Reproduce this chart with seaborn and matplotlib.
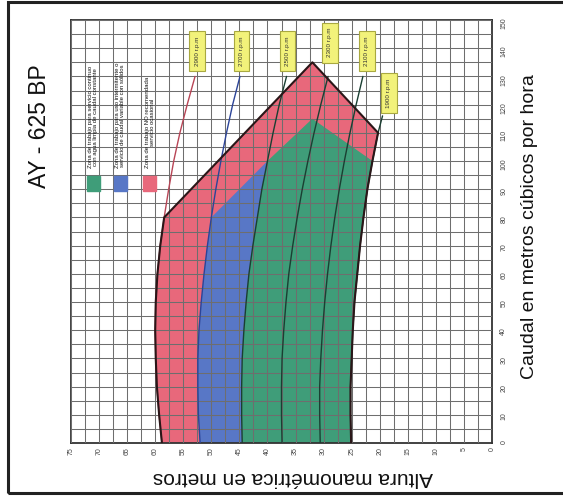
import matplotlib

matplotlib.use("Agg")
import matplotlib.pyplot as plt
import seaborn as sns
from matplotlib.patches import Rectangle

# caudal (m3/h) and altura (m)
caudal = [0, 10, 20, 30, 40, 50, 60, 70, 80, 90, 100, 110, 120, 130]
h_2900 = [58.8, 59.3, 59.7, 59.9, 60.0, 59.9, 59.6, 59.1, 58.4, 57.6, 56.7, 55.6, 54.3, 52.9]
h_2700 = [52.0, 52.3, 52.4, 52.4, 52.2, 51.8, 51.3, 50.7, 50.0, 49.2, 48.3, 47.3, 46.2, 44.9]
h_2500 = [44.5, 44.6, 44.6, 44.5, 44.2, 43.8, 43.3, 42.6, 41.8, 41.0, 40.0, 39.0, 37.9, 36.6]
h_2300 = [37.4, 37.5, 37.5, 37.4, 37.1, 36.7, 36.2, 35.5, 34.7, 33.8, 32.8, 31.7, 30.5, 29.2]
h_2100 = [30.6, 30.7, 30.7, 30.5, 30.2, 29.8, 29.3, 28.7, 28.0, 27.2, 26.3, 25.3, 24.2, 23.0]
caudal_1900 = [0, 10, 20, 30, 40, 50, 60, 70, 80, 90, 100, 110, 116]
h_1900 = [25.1, 25.2, 25.2, 25.0, 24.8, 24.5, 24.0, 23.5, 22.9, 22.2, 21.3, 20.3, 19.5]

# zone corners
peak_red = (135, 32.0)
peak_green = (115, 32.0)

speed_labels = ["2900 r.p.m", "2700 r.p.m", "2500 r.p.m", "2300 r.p.m", "2100 r.p.m", "1900 r.p.m"]
label_pos = [(52.5, 139), (44.6, 139), (36.4, 139), (28.9, 142), (22.3, 139), (18.4, 124)]

legend_texts = [
    "Zona de trabajo para servicio continuo\ncon agua limpia de caudal constante",
    "Zona de trabajo para uso intermitente o\nservicio de caudal variable con sólidos",
    "Zona de trabajo NO recomendada\nservicio ocasional",
]
zone_colors = ["#3f9d79", "#5877c6", "#e8687b"]

sns.set_theme(style="white")
plt.rcParams["font.family"] = ["Liberation Sans", "DejaVu Sans"]

fig = plt.figure(figsize=(5.63, 5.04), dpi=100)
ax = fig.add_axes([0.1261, 0.121, 0.7478, 0.8393])

# zones
red_h = h_2900[:9] + [peak_red[1]] + h_1900[:12][::-1]
red_q = caudal[:9] + [peak_red[0]] + caudal_1900[:12][::-1]
ax.fill(red_h, red_q, color=zone_colors[2], lw=0, zorder=1)

blue_h = h_2700[:9] + h_2500[:11][::-1]
blue_q = caudal[:9] + caudal[:11][::-1]
ax.fill(blue_h, blue_q, color=zone_colors[1], lw=0, zorder=1)

green_h = h_2500[:11] + [peak_green[1]] + h_1900[:11][::-1]
green_q = caudal[:11] + [peak_green[0]] + caudal_1900[:11][::-1]
ax.fill(green_h, green_q, color=zone_colors[0], lw=0, zorder=1)

# speed curves
curves = [
    (h_2900, caudal, "#b84556"),
    (h_2700, caudal, "#2c4498"),
    (h_2500, caudal, "#1a3f32"),
    (h_2300, caudal, "#1a3f32"),
    (h_2100, caudal, "#1a3f32"),
    (h_1900, caudal_1900, "#1a3f32"),
]
for hh, qq, col in curves:
    sns.lineplot(x=hh, y=qq, sort=False, estimator=None, color=col, lw=1.0, ax=ax, zorder=3)

# envelope outline
ax.plot(red_h, red_q, color="#2a1618", lw=1.5, zorder=4)

for txt, (hx, qy) in zip(speed_labels, label_pos):
    ax.text(hx, qy, txt, rotation=90, ha="center", va="center", fontsize=4.5, color="#333",
            zorder=6, bbox=dict(boxstyle="square,pad=0.85", fc="#f2f27a", ec="#a9a940", lw=0.8))

# legend squares + text
leg_h = [71.0, 66.2, 61.0]
for hx, col, txt in zip(leg_h, zone_colors, legend_texts):
    ax.add_patch(Rectangle((hx + 1.15, 89.5), -2.3, 5.3, color=col, zorder=5))
    ax.text(hx, 97.5, txt, rotation=90, ha="center", va="bottom", fontsize=4.3,
            linespacing=1.0, color="#111", zorder=5)

ax.set_xlim(75, 0)
ax.set_ylim(0, 150)
ax.set_xticks(range(0, 76, 5))
ax.set_xticks([v / 2 for v in range(0, 151, 5)], minor=True)
ax.set_yticks(range(0, 151, 10))
ax.set_yticks(range(0, 151, 5), minor=True)
ax.yaxis.tick_right()
ax.tick_params(which="both", length=0, labelsize=5, labelcolor="#444")
ax.tick_params(axis="x", pad=3, labelrotation=90)
ax.tick_params(axis="y", pad=6, labelrotation=90)
ax.set_axisbelow(False)
ax.grid(which="both", color="#6e6e6e", lw=0.75)
for s in ax.spines.values():
    s.set_color("#333")
    s.set_linewidth(1.3)
ax.set_xlabel("")
ax.set_ylabel("")

fig.text(39.5 / 563, 1 - 126 / 504, "AY - 625 BP", rotation=90, ha="center", va="center",
         fontsize=16.5, color="#111")
fig.text(530 / 563, 1 - 227 / 504, "Caudal en metros cúbicos por hora", rotation=90,
         ha="center", va="center", fontsize=14, color="#111")
fig.text(293 / 563, 1 - 477 / 504, "Altura manométrica en metros", rotation=180,
         ha="center", va="center", fontsize=15, color="#111")

fig.patches.append(Rectangle((8 / 563, 1 - 493 / 504), 1.1, 491 / 504, fill=False,
                             ec="#222", lw=2.2, transform=fig.transFigure, figure=fig))

fig.savefig("out.png", dpi=100)
